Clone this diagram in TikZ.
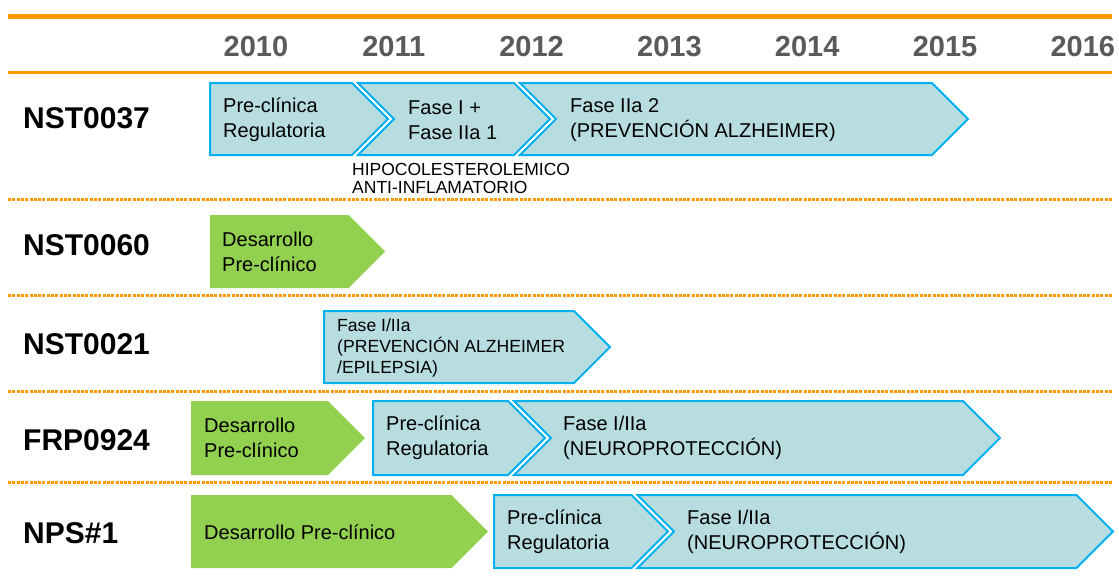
\documentclass[tikz,border=0pt]{standalone}
\usepackage{fontspec}
\setmainfont{Liberation Sans}

\definecolor{orangeline}{HTML}{FF9900}
\definecolor{phasefill}{HTML}{B8DDE1}
\definecolor{phaseline}{HTML}{00B0F0}
\definecolor{devgreen}{HTML}{92D050}
\definecolor{yeargray}{HTML}{5A5A5A}

% #2 left x, #3 tip x, #4 top y, #5 bottom y, #6 notch (0/1)
\newcommand{\phasebox}[6][]{%
  \pgfmathsetmacro\hh{(#5-#4)/2}%
  \pgfmathsetmacro\ym{(#5+#4)/2}%
  \path[#1] (#2,#4) -- ({#3-\hh},#4) -- (#3,\ym) -- ({#3-\hh},#5) -- (#2,#5) -- ({#2+#6*\hh},\ym) -- cycle;}

\tikzset{
  blue phase/.style={fill=phasefill, draw=phaseline, line width=2pt, line join=miter},
  green phase/.style={fill=devgreen},
  phase text/.style={anchor=west, inner sep=0pt, align=left, font=\fontsize{20}{25}\selectfont},
  small text/.style={anchor=west, inner sep=0pt, align=left, font=\fontsize{17.6}{21}\selectfont},
  note text/.style={anchor=west, inner sep=0pt, align=left, font=\fontsize{17.5}{18}\selectfont},
  drug label/.style={anchor=west, inner sep=0pt, font=\fontsize{30}{30}\selectfont\bfseries},
  year label/.style={inner sep=0pt, text=yeargray, font=\fontsize{29}{30}\selectfont\bfseries},
  row rule/.style={orangeline, line width=3pt, dash pattern=on 3pt off 1.3pt}
}

\begin{document}
\begin{tikzpicture}[x=1pt,y=-1pt]
  \useasboundingbox (0,0) rectangle (1119,581);

  \coordinate (tl) at (8,16);
  \coordinate (tr) at (1112,16);
  \coordinate (ml) at (8,72.5);
  \coordinate (mr) at (1112,72.5);
  \draw[orangeline, line width=5pt] (tl) -- (tr);
  \draw[orangeline, line width=3.5pt] (ml) -- (mr);

  \foreach \yr [count=\i from 0] in {2010,2011,2012,2013,2014,2015,2016}
    \node[year label] (y\yr) at ({256+137.8*\i},47) {\yr};

  \foreach \rr/\yy in {a/199,b/295,c/391,d/482} {
    \coordinate (\rr l) at (8,\yy);
    \coordinate (\rr r) at (1112,\yy);
    \draw[row rule] (\rr l) -- (\rr r);
  }

  \node[drug label] (nst37) at (23,118) {NST0037};
  \node[drug label] (nst60) at (23,245) {NST0060};
  \node[drug label] (nst21) at (23,344) {NST0021};
  \node[drug label] (frp) at (23,440) {FRP0924};
  \node[drug label] (nps) at (23,533) {NPS\#1};

  \phasebox[blue phase]{210}{388}{83}{155}{0}
  \phasebox[blue phase]{358}{550}{83}{155}{1}
  \phasebox[blue phase]{520}{968}{83}{155}{1}
  \node[phase text] (nst37a) at (223,120) {Pre-clínica\\Regulatoria};
  \node[phase text] (nst37b) at (408,120) {Fase I +\\Fase IIa 1};
  \node[phase text] (nst37c) at (570,120) {Fase IIa 2\\(PREVENCIÓN ALZHEIMER)};
  \node[note text] (nst37n) at (352,178) {HIPOCOLESTEROLEMICO\\ANTI-INFLAMATORIO};

  \phasebox[green phase]{210}{385}{215}{288}{0}
  \node[phase text] (nst60a) at (222,252) {Desarrollo\\Pre-clínico};

  \phasebox[blue phase]{324}{610}{311}{383}{0}
  \node[small text] (nst21a) at (337,347.5) {Fase I/IIa\\(PREVENCIÓN ALZHEIMER\\/EPILEPSIA)};

  \phasebox[green phase]{191}{365}{401}{475}{0}
  \phasebox[blue phase]{373}{545}{401}{475}{0}
  \phasebox[blue phase]{514}{1000}{401}{475}{1}
  \node[phase text] (frpa) at (204,438) {Desarrollo\\Pre-clínico};
  \node[phase text] (frpb) at (386,438) {Pre-clínica\\Regulatoria};
  \node[phase text] (frpc) at (563,438) {Fase I/IIa\\(NEUROPROTECCIÓN)};

  \phasebox[green phase]{191}{488}{495}{568}{0}
  \phasebox[blue phase]{494}{668}{495}{568}{0}
  \phasebox[blue phase]{637.5}{1113}{495}{568}{1}
  \node[phase text] (npsa) at (204,532) {Desarrollo Pre-clínico};
  \node[phase text] (npsb) at (507,532) {Pre-clínica\\Regulatoria};
  \node[phase text] (npsc) at (687,532) {Fase I/IIa\\(NEUROPROTECCIÓN)};
\end{tikzpicture}
\end{document}
